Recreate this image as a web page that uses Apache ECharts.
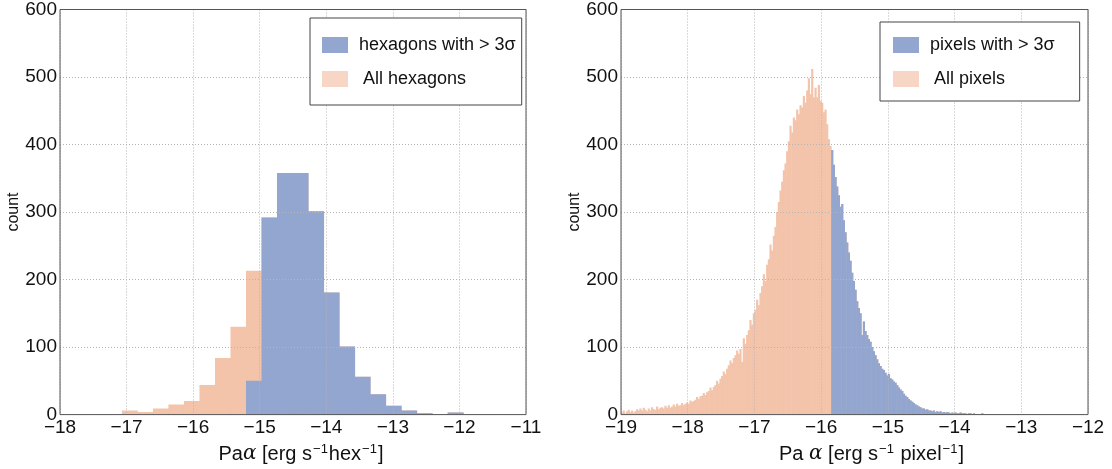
<!DOCTYPE html>
<html>
<head>
<meta charset="utf-8">
<script src="https://cdn.jsdelivr.net/npm/echarts@6/dist/echarts.min.js"></script>
<style>
  html, body { margin: 0; padding: 0; background: #fff; }
  #chart { width: 1112px; height: 469px; }
</style>
</head>
<body>
<div id="chart"></div>
<script>
// Left panel: hexagon-binned Paα histogram (22 bins)
const hexBinEdges = [-17.07, -16.837, -16.604, -16.371, -16.138, -15.905, -15.672, -15.439,
  -15.206, -14.973, -14.74, -14.507, -14.274, -14.041, -13.808, -13.575, -13.342, -13.109,
  -12.876, -12.643, -12.41, -12.177, -11.944];
const hexAllCounts = [6, 4, 9, 15, 20, 44, 84, 130, 213, 292, 358, 358, 301, 181, 101, 56, 30, 13, 6, 2, 0, 3];
const hexSigmaCounts = [0, 0, 0, 0, 0, 0, 0, 0, 50, 292, 358, 358, 301, 181, 101, 56, 30, 13, 6, 2, 0, 3];

// Right panel: per-pixel Paα histogram (fine bins)
const pixelBinStart = -19.0;
const pixelBinWidth = 0.025;
const sigmaThreshold = -15.85;
const allPixelCounts = [
  3, 6, 2, 5, 7, 4, 6, 3, 5, 8, 6, 9, 6, 10, 7, 5, 9, 6, 11, 8,
  7, 12, 8, 10, 11, 9, 13, 10, 14, 10, 12, 15, 12, 16, 13, 14, 17, 14, 16, 18,
  16, 21, 19, 20, 22, 26, 23, 27, 28, 32, 29, 33, 35, 40, 36, 41, 44, 50, 46, 53,
  57, 64, 60, 68, 73, 80, 76, 84, 88, 95, 90, 97, 78, 113, 105, 118, 125, 140, 133, 150,
  155, 170, 162, 180, 190, 208, 198, 222, 230, 252, 243, 265, 278, 300, 315, 332,
  345, 362, 372, 390, 405, 428, 418, 440, 436, 452, 445, 458, 455, 472, 462, 480,
  498, 475, 512, 470, 484, 470, 488, 465, 462, 448, 452, 430, 408, 398,
  392, 370, 352, 338, 325, 308, 312, 288, 270, 255, 240, 228, 210, 198, 185, 168,
  158, 150, 118, 138, 124, 118, 112, 108, 100, 94, 88, 82, 76, 72, 68, 66,
  62, 58, 60, 54, 52, 49, 47, 44, 40, 37, 35, 31, 28, 26, 23, 21,
  19, 17, 15, 14, 12, 11, 9, 9, 7, 8, 6, 6, 5, 6, 4, 5,
  4, 5, 3, 4, 3, 4, 3, 2, 3, 2, 3, 2, 2, 3, 2, 2,
  2, 1, 2, 2, 1, 2, 1, 1, 1, 1, 2, 1, 1, 0, 1, 1,
  0, 1, 0, 1, 0, 1, 0, 0
];

const hexLeftTicks = { min: -18, max: -11 };
const pixelTicks = { min: -19, max: -12 };
const countTicks = { min: 0, max: 600, interval: 100 };

const BLUE = '#92a6cf';
const ORANGE = '#f3c3aa';
const ORANGE_LEGEND = '#f8d6c5';
const FONT = '"Liberation Sans", Arial, sans-serif';
const TEXT = '#111';

// [left edge, right edge, count] triples for custom rect series
function hexBins(counts) {
  return counts.map((c, i) => [hexBinEdges[i], hexBinEdges[i + 1], c]);
}
function pixelBins(onlySigma) {
  return allPixelCounts.map((c, i) => {
    const x0 = pixelBinStart + i * pixelBinWidth;
    const keep = !onlySigma || x0 >= sigmaThreshold - 1e-9;
    return [x0, x0 + pixelBinWidth, keep ? c : 0];
  });
}

function renderBin(params, api) {
  const c = api.value(2);
  if (!c) return null;
  const p0 = api.coord([api.value(0), 0]);
  const p1 = api.coord([api.value(1), c]);
  return {
    type: 'rect',
    shape: { x: p0[0], y: p1[1], width: p1[0] - p0[0] + 0.5, height: p0[1] - p1[1] },
    style: { fill: api.visual('color') }
  };
}

const minus = v => (v < 0 ? '\u2212' + (-v) : String(v));

function xAxisFor(gridIndex, range, name, padLeft) {
  return {
    type: 'value', gridIndex, min: range.min, max: range.max, interval: 1, z: 3,
    axisLine: { show: false }, axisTick: { show: false },
    splitLine: { show: true, lineStyle: { color: '#b4b4b4', type: [1, 2], width: 1 } },
    axisLabel: { formatter: minus, fontSize: 19, fontFamily: FONT, color: TEXT, margin: 4,
      showMinLabel: true, showMaxLabel: true },
    name, nameLocation: 'middle', nameGap: 22,
    nameTextStyle: {
      fontSize: 20, fontFamily: FONT, color: TEXT, padding: [0, 0, 0, padLeft],
      rich: {
        al: { fontFamily: '"DejaVu Serif", serif', fontStyle: 'italic', fontSize: 20, color: TEXT },
        sup: { fontSize: 13, fontFamily: FONT, color: TEXT, verticalAlign: 'bottom', padding: [0, 1, 10, 1] }
      }
    }
  };
}
function yAxisFor(gridIndex) {
  return {
    type: 'value', gridIndex, min: countTicks.min, max: countTicks.max, interval: countTicks.interval, z: 3,
    axisLine: { show: false }, axisTick: { show: false },
    splitLine: { show: true, lineStyle: { color: '#b4b4b4', type: [1, 2], width: 1 } },
    axisLabel: { fontSize: 19, fontFamily: FONT, color: TEXT, margin: 3, showMinLabel: true, showMaxLabel: true },
    name: 'count', nameLocation: 'middle', nameGap: 37,
    nameTextStyle: { fontSize: 16, fontFamily: FONT, color: TEXT }
  };
}
function legendFor(left, top, padding, names) {
  return {
    orient: 'vertical', left, top, padding,
    itemWidth: 26, itemHeight: 16, itemGap: 14, icon: 'rect', selectedMode: false,
    backgroundColor: '#fff', borderColor: '#444', borderWidth: 1, borderRadius: 0,
    textStyle: { fontSize: 18, fontFamily: FONT, color: TEXT, lineHeight: 20, padding: [0, 0, 0, 6] },
    data: [
      { name: names[0], itemStyle: { color: BLUE } },
      { name: names[1], itemStyle: { color: ORANGE_LEGEND }, textStyle: { padding: [0, 0, 0, 10] } }
    ]
  };
}

const chart = echarts.init(document.getElementById('chart'), null, { renderer: 'canvas' });
chart.setOption({
  animation: false,
  backgroundColor: '#fff',
  grid: [
    { left: 60, right: 586, top: 7, bottom: 50, show: true, z: 5, borderColor: '#555', borderWidth: 1, backgroundColor: 'transparent' },
    { left: 621, right: 24, top: 7, bottom: 50, show: true, z: 5, borderColor: '#555', borderWidth: 1, backgroundColor: 'transparent' }
  ],
  xAxis: [
    xAxisFor(0, hexLeftTicks, 'Pa{al|α} [erg s{sup|\u22121}hex{sup|\u22121}]', 16),
    xAxisFor(1, pixelTicks, 'Pa {al|α} [erg s{sup|\u22121} pixel{sup|\u22121}]', 34)
  ],
  yAxis: [yAxisFor(0), yAxisFor(1)],
  legend: [
    legendFor(310, 18, [17, 6, 16, 12], ['hexagons with > 3σ', 'All hexagons']),
    legendFor(880, 22, [13, 25, 12, 13], ['pixels with > 3σ', 'All pixels'])
  ],
  series: [
    { type: 'custom', name: 'All hexagons', xAxisIndex: 0, yAxisIndex: 0, clip: true,
      itemStyle: { color: ORANGE }, renderItem: renderBin, data: hexBins(hexAllCounts) },
    { type: 'custom', name: 'hexagons with > 3σ', xAxisIndex: 0, yAxisIndex: 0, clip: true,
      itemStyle: { color: BLUE }, renderItem: renderBin, data: hexBins(hexSigmaCounts) },
    { type: 'custom', name: 'All pixels', xAxisIndex: 1, yAxisIndex: 1, clip: true,
      itemStyle: { color: ORANGE }, renderItem: renderBin, data: pixelBins(false) },
    { type: 'custom', name: 'pixels with > 3σ', xAxisIndex: 1, yAxisIndex: 1, clip: true,
      itemStyle: { color: BLUE }, renderItem: renderBin, data: pixelBins(true) }
  ]
});
</script>
</body>
</html>
